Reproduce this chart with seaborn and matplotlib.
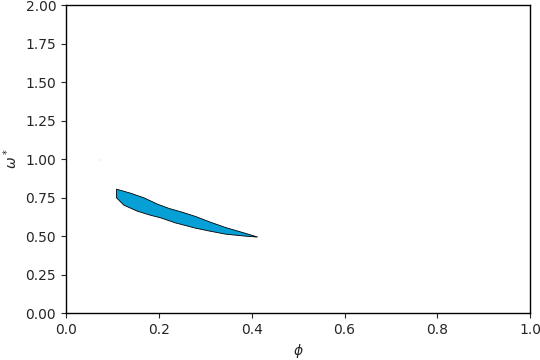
import matplotlib
matplotlib.use("Agg")
import matplotlib.pyplot as plt
import seaborn as sns

# Upper boundary of the region
upper_phi = [0.109, 0.139, 0.168, 0.197, 0.222, 0.250, 0.279, 0.311, 0.344, 0.387, 0.413]
upper_omega = [0.805, 0.779, 0.749, 0.708, 0.680, 0.656, 0.628, 0.591, 0.556, 0.518, 0.494]
# Lower boundary of the region
lower_phi = [0.109, 0.125, 0.154, 0.182, 0.204, 0.236, 0.279, 0.311, 0.344, 0.387, 0.413]
lower_omega = [0.749, 0.701, 0.662, 0.636, 0.619, 0.586, 0.552, 0.532, 0.513, 0.500, 0.494]
# Tiny degenerate region
dot_phi = [0.0725, 0.0725]
dot_omega = [0.99, 1.01]

sns.set_style("ticks")
plt.rcParams['font.family'] = ['DejaVu Sans']

fig, ax = plt.subplots(figsize=(5.4, 3.6), dpi=100)
poly_x = upper_phi + lower_phi[::-1]
poly_y = upper_omega + lower_omega[::-1]
ax.fill(poly_x, poly_y, facecolor="#069fd6", edgecolor="black", linewidth=0.6)
sns.lineplot(x=dot_phi, y=dot_omega, ax=ax, color="#9a9a9a", linewidth=0.9, sort=False)

ax.set_xlim(0, 1)
ax.set_ylim(0, 2)
ax.set_xticks([0.0, 0.2, 0.4, 0.6, 0.8, 1.0])
ax.set_yticks([0.0, 0.25, 0.5, 0.75, 1.0, 1.25, 1.5, 1.75, 2.0])
ax.set_yticklabels(["0.00", "0.25", "0.50", "0.75", "1.00", "1.25", "1.50", "1.75", "2.00"])
ax.set_xlabel(r"$\phi$")
ax.set_ylabel(r"$\omega^*$")
for s in ax.spines.values():
    s.set_visible(True)
    s.set_color("black")
    s.set_linewidth(1.0)
fig.subplots_adjust(left=0.122, right=0.982, top=0.986, bottom=0.13)
fig.savefig("out.png", dpi=100)
